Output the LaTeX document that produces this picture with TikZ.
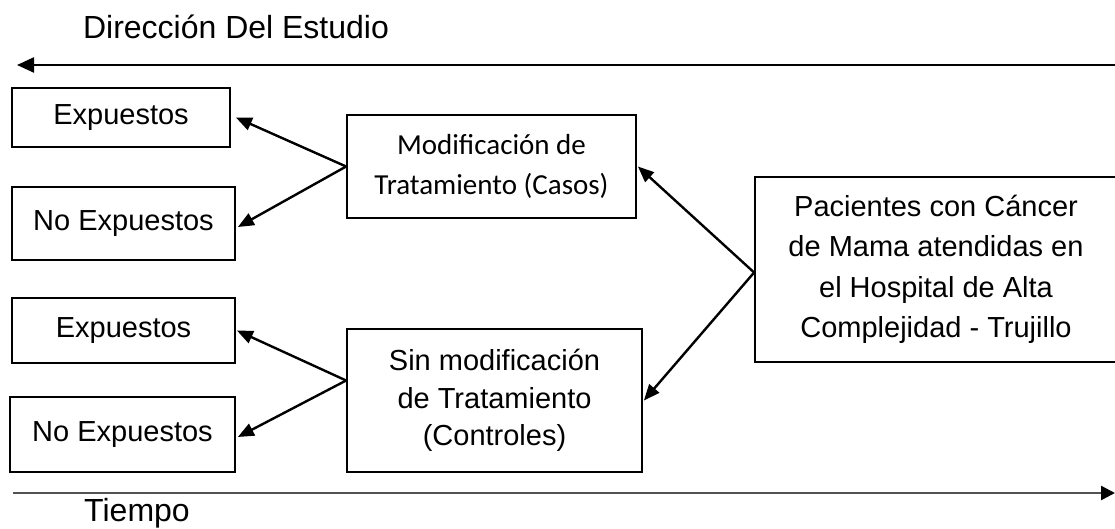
\documentclass[tikz,border=0pt]{standalone}
\usepackage{fontspec}
\setmainfont{Liberation Sans}
\newfontfamily\calibrifont{Carlito}
\usetikzlibrary{arrows.meta}
\begin{document}
\begin{tikzpicture}[x=1pt,y=-1pt,
  box/.style={draw=black,line width=1.8pt,rectangle,inner sep=0pt,align=center,font=\fontsize{29}{40.5}\selectfont},
  arr/.style={line width=2.4pt,-{Triangle[length=16pt,width=13pt]}},
  big/.style={font=\fontsize{32}{38}\selectfont,inner sep=0pt,anchor=base}]
\useasboundingbox (0,0) rectangle (1115,529);

% title and time axis labels
\node[big] (title) at (236,39) {Dirección Del Estudio};
\node[big] (tiempo) at (137,521) {Tiempo};

% direction arrows
\coordinate (topR) at (1116,65);
\coordinate (topL) at (17,65);
\draw[line width=2.4pt,-{Triangle[length=17pt,width=15pt]}] (topR) -- (topL);
\coordinate (botL) at (13,493);
\coordinate (botR) at (1115,493);
\draw[line width=2.4pt,draw=black!68,-{Triangle[length=14pt,width=14pt,color=black]}] (botL) -- (botR);

% boxes
\node[box,minimum width=218pt,minimum height=59pt] (E1) at (121,117.5) {Expuestos};
\node[box,minimum width=223pt,minimum height=73pt] (NE1) at (123.5,223.5) {No Expuestos};
\node[box,minimum width=223pt,minimum height=65pt] (E2) at (123.5,330.5) {Expuestos};
\node[box,minimum width=225pt,minimum height=75pt] (NE2) at (122.5,434.5) {No Expuestos};
\node[box,minimum width=289pt,minimum height=103pt,font=\calibrifont\fontsize{29}{40}\selectfont] (M) at (491.5,166.5) {Modificación de\\Tratamiento (Casos)};
\node[box,minimum width=295pt,minimum height=143pt,font=\fontsize{29}{37.5}\selectfont] (S) at (494.5,400.5) {Sin modificación\\de Tratamiento\\(Controles)};
\node[box,minimum width=362pt,minimum height=185pt] (P) at (936,269.5) {Pacientes con Cáncer\\de Mama atendidas en\\el Hospital de Alta\\Complejidad - Trujillo};

% connectors
\draw[arr] (M.west) -- ([xshift=5pt]E1.east);
\draw[arr] (M.west) -- ([xshift=2pt,yshift=-3.5pt]NE1.east);
\draw[arr] ([yshift=20pt]S.west) -- ([xshift=1pt]E2.east);
\draw[arr] ([yshift=20pt]S.west) -- ([xshift=2pt,yshift=-2.5pt]NE2.east);
\draw[arr] ([yshift=-3pt]P.west) -- ([xshift=1pt]M.east);
\draw[arr] ([yshift=-3pt]P.west) -- ([xshift=1pt]S.east);
\end{tikzpicture}
\end{document}
